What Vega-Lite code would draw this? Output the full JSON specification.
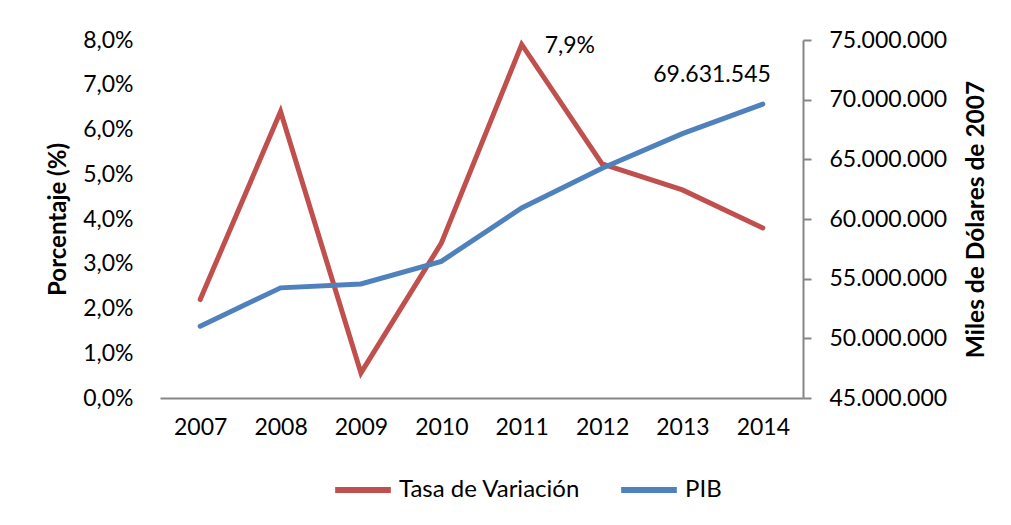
{
  "$schema": "https://vega.github.io/schema/vega-lite/v6.json",
  "autosize": "none",
  "width": 643,
  "height": 358,
  "padding": {"left": 160, "top": 40, "right": 208, "bottom": 127},
  "background": "white",
  "config": {
    "locale": {"number": {"decimal": ",", "thousands": ".", "grouping": [3], "currency": ["$", ""]}},
    "font": "Lato",
    "view": {"stroke": null},
    "axis": {"labelFont": "Lato", "titleFont": "Lato", "labelColor": "#000000", "titleColor": "#000000", "grid": false, "labelOverlap": false}
  },
  "data": {
    "values": [
      {"year": "2007", "tasa": 0.022, "pib": 51020000},
      {"year": "2008", "tasa": 0.064, "pib": 54230000},
      {"year": "2009", "tasa": 0.0056, "pib": 54560000},
      {"year": "2010", "tasa": 0.0346, "pib": 56450000},
      {"year": "2011", "tasa": 0.079, "pib": 60930000},
      {"year": "2012", "tasa": 0.0523, "pib": 64250000},
      {"year": "2013", "tasa": 0.0465, "pib": 67150000},
      {"year": "2014", "tasa": 0.038, "pib": 69631545}
    ]
  },
  "encoding": {
    "x": {
      "field": "year", "type": "ordinal",
      "scale": {"type": "point", "padding": 0.5},
      "axis": {"title": null, "labelAngle": 0, "labelFontSize": 23, "ticks": false, "labelPadding": 18, "domainColor": "#868686", "domainWidth": 2}
    }
  },
  "layer": [
    {
      "layer": [
        {
          "mark": {"type": "line", "strokeWidth": 5, "strokeCap": "round", "strokeJoin": "miter"},
          "encoding": {
            "y": {
              "field": "tasa", "type": "quantitative",
              "scale": {"domain": [0, 0.08], "nice": false},
              "axis": {"title": "Porcentaje (%)", "format": ".1%", "values": [0, 0.01, 0.02, 0.03, 0.04, 0.05, 0.06, 0.07, 0.08], "domain": false, "ticks": false, "labelPadding": 27, "labelFontSize": 23, "titleFontSize": 24, "titleFontWeight": "bold", "titlePadding": 12}
            },
            "color": {
              "datum": "Tasa de Variación",
              "scale": {"domain": ["Tasa de Variación", "PIB"], "range": ["#C0504D", "#4F81BD"]},
              "legend": {"title": null, "orient": "none", "direction": "horizontal", "legendX": 172, "legendY": 419, "symbolType": "stroke", "symbolSize": 3100, "symbolStrokeWidth": 6, "labelFontSize": 24, "labelColor": "#000000", "labelOffset": 5, "columnPadding": 28, "labelLimit": 300}
            }
          }
        },
        {
          "transform": [{"filter": "datum.year == '2011'"}],
          "mark": {"type": "text", "align": "left", "baseline": "middle", "dx": 23, "dy": 2, "fontSize": 23, "font": "Lato", "color": "#000000"},
          "encoding": {
            "y": {"field": "tasa", "type": "quantitative"},
            "text": {"field": "tasa", "type": "quantitative", "format": ".1%"}
          }
        }
      ]
    },
    {
      "layer": [
        {
          "mark": {"type": "line", "strokeWidth": 5, "strokeCap": "round", "strokeJoin": "miter"},
          "encoding": {
            "y": {
              "field": "pib", "type": "quantitative",
              "scale": {"domain": [45000000, 75000000], "nice": false, "zero": false},
              "axis": {"orient": "right", "title": "Miles de Dólares de 2007", "titleAngle": 270, "titleBaseline": "top", "format": ",.0f", "values": [45000000, 50000000, 55000000, 60000000, 65000000, 70000000, 75000000], "domainColor": "#868686", "domainWidth": 2, "tickColor": "#868686", "tickWidth": 2, "tickSize": 8, "labelPadding": 18, "labelFontSize": 23, "titleFontSize": 24.5, "titleFontWeight": "bold", "titlePadding": 18}
            },
            "color": {"datum": "PIB"}
          }
        },
        {
          "transform": [{"filter": "datum.year == '2014'"}],
          "mark": {"type": "text", "align": "right", "baseline": "middle", "dx": 8, "dy": -29, "fontSize": 23, "font": "Lato", "color": "#000000"},
          "encoding": {
            "y": {"field": "pib", "type": "quantitative"},
            "text": {"field": "pib", "type": "quantitative", "format": ","}
          }
        }
      ]
    }
  ],
  "resolve": {"scale": {"y": "independent"}}
}
